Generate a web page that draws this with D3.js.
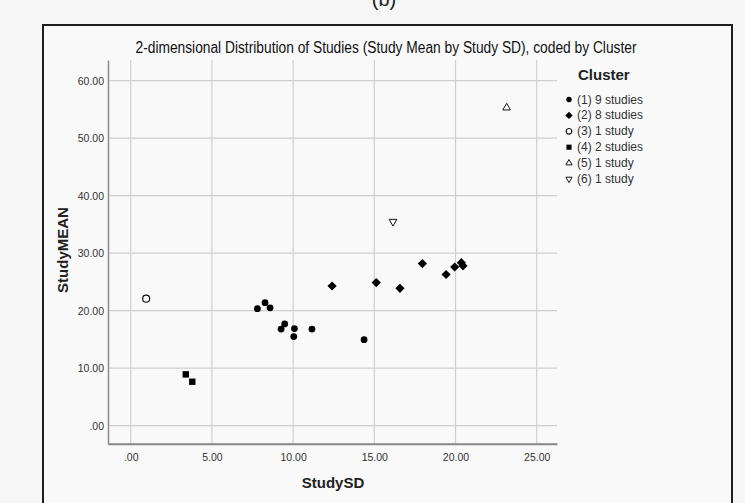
<!DOCTYPE html>
<html>
<head>
<meta charset="utf-8">
<script src="https://cdn.jsdelivr.net/npm/d3@7"></script>
<style>
  body { margin: 0; background: #f6f6f6; }
  svg { display: block; font-family: "Liberation Sans", Arial, sans-serif; }
</style>
</head>
<body>
<svg id="chart" width="745" height="503"></svg>
<script>
// study SD / study mean per cluster
const cluster1SD = [7.8, 8.27, 8.58, 9.26, 9.48, 10.08, 10.04, 11.16, 14.37];
const cluster1Mean = [20.35, 21.4, 20.5, 16.8, 17.7, 16.9, 15.5, 16.8, 14.96];
const cluster2SD = [12.4, 15.12, 16.58, 17.96, 19.42, 19.95, 20.36, 20.46];
const cluster2Mean = [24.3, 24.9, 23.9, 28.2, 26.3, 27.6, 28.35, 27.8];
const cluster3SD = [0.95];
const cluster3Mean = [22.1];
const cluster4SD = [3.39, 3.79];
const cluster4Mean = [8.93, 7.65];
const cluster5SD = [23.15];
const cluster5Mean = [55.3];
const cluster6SD = [16.15];
const cluster6Mean = [35.5];

const legendLabels = ['(1) 9 studies', '(2) 8 studies', '(3) 1 study', '(4) 2 studies', '(5) 1 study', '(6) 1 study'];
const xTicks = [0, 5, 10, 15, 20, 25];
const yTicks = [0, 10, 20, 30, 40, 50, 60];

const clusters = [
  { sd: cluster1SD, mean: cluster1Mean, shape: 'circle' },
  { sd: cluster2SD, mean: cluster2Mean, shape: 'diamond' },
  { sd: cluster3SD, mean: cluster3Mean, shape: 'hollowCircle' },
  { sd: cluster4SD, mean: cluster4Mean, shape: 'square' },
  { sd: cluster5SD, mean: cluster5Mean, shape: 'triUp' },
  { sd: cluster6SD, mean: cluster6Mean, shape: 'triDown' },
];

const svg = d3.select('#chart');
const plot = { left: 108, right: 557, top: 60, bottom: 444 };

const x = d3.scaleLinear().domain([-1.4, 26.25]).range([plot.left, plot.right]);
const y = d3.scaleLinear().domain([-3.18, 63.6]).range([plot.bottom, plot.top]);

// partly cut caption above the frame
svg.append('text')
  .attr('x', 384).attr('y', 6)
  .attr('text-anchor', 'middle')
  .attr('font-size', 20).attr('fill', '#222')
  .text('(b)');

// frame
svg.append('rect')
  .attr('x', 43).attr('y', 25)
  .attr('width', 689).attr('height', 500)
  .attr('fill', '#f9f9f9')
  .attr('stroke', '#1e1e1e').attr('stroke-width', 2);

svg.append('text')
  .attr('x', 386).attr('y', 53)
  .attr('text-anchor', 'middle')
  .attr('font-size', 16).attr('fill', '#111')
  .attr('textLength', 501).attr('lengthAdjust', 'spacingAndGlyphs')
  .text('2-dimensional Distribution of Studies (Study Mean by Study SD), coded by Cluster');

// gridlines
const grid = svg.append('g').attr('stroke', '#cfcfcf').attr('stroke-width', 1.2);
grid.selectAll('.vg').data(xTicks).join('line')
  .attr('x1', d => x(d)).attr('x2', d => x(d))
  .attr('y1', plot.top).attr('y2', plot.bottom);
grid.selectAll('.hg').data(yTicks).join('line')
  .attr('x1', plot.left).attr('x2', plot.right)
  .attr('y1', d => y(d)).attr('y2', d => y(d));

// axes
const fmt = d => d === 0 ? '.00' : d3.format('.2f')(d);
const xAxis = svg.append('g')
  .attr('transform', `translate(0,${plot.bottom})`)
  .call(d3.axisBottom(x).tickValues(xTicks).tickFormat(fmt).tickSize(0).tickPadding(10));
const yAxis = svg.append('g')
  .attr('transform', `translate(${plot.left},0)`)
  .call(d3.axisLeft(y).tickValues(yTicks).tickFormat(fmt).tickSize(0).tickPadding(4));
[xAxis, yAxis].forEach(a => {
  a.select('.domain').attr('stroke', '#8a8a8a').attr('stroke-width', 1.5);
  a.selectAll('text').attr('font-size', 10.5).attr('fill', '#333')
    .attr('font-family', '"Liberation Sans", Arial, sans-serif');
});
// x axis line spans whole plot width
svg.append('line')
  .attr('x1', plot.left).attr('x2', plot.right)
  .attr('y1', plot.bottom).attr('y2', plot.bottom)
  .attr('stroke', '#8a8a8a').attr('stroke-width', 1.5);

svg.append('text')
  .attr('x', 333).attr('y', 488)
  .attr('text-anchor', 'middle')
  .attr('font-size', 15).attr('font-weight', 'bold').attr('fill', '#222')
  .text('StudySD');
svg.append('text')
  .attr('transform', 'translate(68,250) rotate(-90)')
  .attr('text-anchor', 'middle')
  .attr('font-size', 15).attr('font-weight', 'bold').attr('fill', '#222')
  .text('StudyMEAN');

// markers
function drawMarker(g, shape, s) {
  const k = s || 1;
  if (shape === 'circle') {
    g.append('circle').attr('r', 3.4 * k).attr('fill', '#000');
  } else if (shape === 'diamond') {
    const r = 4.6 * k;
    g.append('path').attr('d', `M0,${-r}L${r},0L0,${r}L${-r},0Z`).attr('fill', '#000');
  } else if (shape === 'hollowCircle') {
    g.append('circle').attr('r', 3.5 * k).attr('fill', '#fff').attr('stroke', '#111').attr('stroke-width', 1.2);
  } else if (shape === 'square') {
    g.append('rect').attr('x', -3.2 * k).attr('y', -3.2 * k)
      .attr('width', 6.4 * k).attr('height', 6.4 * k).attr('fill', '#000');
  } else if (shape === 'triUp') {
    g.append('path').attr('d', d3.symbol(d3.symbolTriangle, 26 * k * k)())
      .attr('fill', '#fff').attr('stroke', '#111').attr('stroke-width', 1);
  } else if (shape === 'triDown') {
    g.append('path').attr('d', d3.symbol(d3.symbolTriangle, 26 * k * k)())
      .attr('transform', 'rotate(180)')
      .attr('fill', '#fff').attr('stroke', '#111').attr('stroke-width', 1);
  }
}

clusters.forEach(c => {
  c.sd.forEach((v, i) => {
    const g = svg.append('g').attr('transform', `translate(${x(v)},${y(c.mean[i])})`);
    drawMarker(g, c.shape);
  });
});

// legend
svg.append('text')
  .attr('x', 578).attr('y', 80)
  .attr('font-size', 15).attr('font-weight', 'bold').attr('fill', '#222')
  .text('Cluster');
const legend = svg.append('g');
legendLabels.forEach((lab, i) => {
  const yy = 99.5 + i * 15.9;
  const g = legend.append('g').attr('transform', `translate(569,${yy})`);
  drawMarker(g, clusters[i].shape, 0.8);
  legend.append('text')
    .attr('x', 577).attr('y', yy + 4)
    .attr('font-size', 12).attr('fill', '#333')
    .text(lab);
});
</script>
</body>
</html>
